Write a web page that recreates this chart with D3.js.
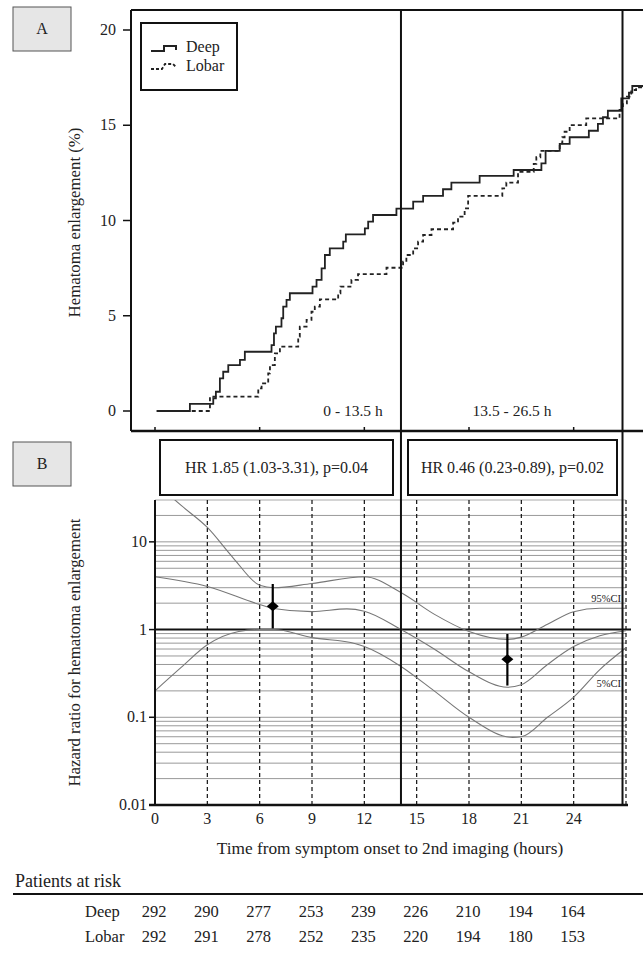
<!DOCTYPE html>
<html>
<head>
<meta charset="utf-8">
<script src="https://cdn.jsdelivr.net/npm/d3@7"></script>
<style>
  body { margin: 0; background: #fff; }
  text { font-family: "Liberation Serif", "DejaVu Serif", serif; fill: #222; }
</style>
</head>
<body>
<div id="chart"></div>
<script>
// Panel A: cumulative hematoma enlargement (%) step curves [hours, %]
const deepSteps = [[0.1,0],[2.0,0.37],[3.34,0.67],[3.49,1.01],[3.72,1.71],[3.91,2.06],[4.2,2.41],[4.87,2.68],[5.15,3.11],
  [6.68,3.46],[6.82,4.07],[6.93,4.43],[7.25,4.87],[7.35,5.48],[7.54,5.83],[7.73,6.18],[9.03,6.53],[9.26,6.88],[9.55,7.49],
  [9.74,8.19],[10.02,8.54],[10.79,8.89],[10.94,9.27],[12.03,9.59],[12.22,9.94],[12.5,10.29],[13.84,10.62],[14.8,10.99],
  [15.37,11.29],[16.51,11.64],[16.99,11.99],[18.61,12.34],[20.56,12.65],[22.15,13.0],[22.39,13.66],[23.2,14.02],[23.77,14.37],
  [24.87,14.71],[25.39,15.07],[25.68,15.42],[25.96,15.76],[26.73,16.41],[27.17,16.71],[27.36,17.06],[28.5,17.06]];
const lobarSteps = [[0.1,0],[3.15,0.75],[5.92,1.19],[6.11,1.45],[6.49,1.98],[6.59,2.41],[6.87,3.03],[7.16,3.38],[8.21,3.9],
  [8.3,4.43],[8.69,4.78],[8.97,5.21],[9.16,5.48],[9.45,5.86],[10.5,6.18],[10.63,6.53],[11.26,6.88],[11.64,7.19],[13.27,7.52],
  [14.22,7.84],[14.41,8.19],[14.8,8.54],[15.08,8.89],[15.37,9.24],[15.85,9.54],[17.09,9.89],[17.37,10.2],[17.75,10.64],
  [17.95,11.29],[19.91,11.69],[20.14,11.99],[20.81,12.56],[21.71,12.97],[21.86,13.32],[22.09,13.66],[23.2,14.05],[23.35,14.37],
  [23.48,14.66],[23.77,15.01],[24.72,15.36],[26.63,15.8],[26.82,16.15],[27.05,16.5],[27.3,16.85],[27.58,16.99],[28.5,16.99]];

// Panel B: hazard ratio curves [hours, HR]
const upperCI = [[0,48],[1.5,26],[3,14.6],[4.5,6.5],[6,3.2],[6.8,3.0],[9,3.35],[12,4.0],[14.1,2.64],[16,1.5],[18,0.95],
  [20.2,0.77],[21,0.82],[22.5,1.15],[24,1.6],[25.5,1.75],[27,1.75]];
const hrCurve = [[0,4.0],[3,3.1],[6,1.93],[6.8,1.74],[9,1.6],[11,1.72],[12,1.62],[14.1,1.0],[16,0.6],[18,0.33],[20.2,0.22],
  [21,0.235],[22.5,0.4],[24,0.64],[25.5,0.85],[27,0.97]];
const lowerCI = [[0,0.2],[1.5,0.37],[3,0.67],[4.8,0.95],[6,1.0],[6.8,1.0],[9,0.81],[11.5,0.69],[12,0.64],[14.1,0.38],[16,0.2],
  [18,0.1],[20.5,0.059],[21,0.06],[22.5,0.1],[24,0.17],[25.5,0.35],[27,0.62]];

// period estimates
const periods = ["0 - 13.5 h", "13.5 - 26.5 h"];
const periodHR = [1.85, 0.46];
const periodLo = [1.03, 0.23];
const periodHi = [3.31, 0.89];
const periodMid = [6.75, 20.2];
const periodText = ["HR 1.85 (1.03-3.31), p=0.04", "HR 0.46 (0.23-0.89), p=0.02"];
const windowEdges = [14.1, 26.8];

// ticks
const aTicks = [0, 5, 10, 15, 20];
const bTicks = [0.01, 0.1, 1, 10];
const xTicks = [0, 3, 6, 9, 12, 15, 18, 21, 24];

// patients at risk
const riskGroups = ["Deep", "Lobar"];
const riskDeep = [292, 290, 277, 253, 239, 226, 210, 194, 164];
const riskLobar = [292, 291, 278, 252, 235, 220, 194, 180, 153];

const width = 643, height = 953;
const svg = d3.select("#chart").append("svg").attr("width", width).attr("height", height);

const x = d3.scaleLinear().domain([0, 27]).range([155, 626]);
const yA = d3.scaleLinear().domain([0, 20]).range([411, 30]);
const yB = d3.scaleLog().domain([0.01, 30]).range([805, 500]);

const aTop = 10, aBottom = 431, aLeft = 131;
const bTop = 500, bBottom = 805;

// panel label boxes
[["A", 7], ["B", 442]].forEach(([lab, top]) => {
  svg.append("rect").attr("x", 13).attr("y", top).attr("width", 58).attr("height", 44)
    .attr("fill", "#e6e6e6").attr("stroke", "#555").attr("stroke-width", 1);
  svg.append("text").attr("x", 42).attr("y", top + 27).attr("text-anchor", "middle")
    .style("font-size", "16px").text(lab);
});

// ---------- Panel A ----------
svg.append("clipPath").attr("id", "clipA").append("rect")
  .attr("x", aLeft).attr("y", aTop).attr("width", width - aLeft).attr("height", aBottom - aTop);

const stepLine = d3.line().x(d => x(d[0])).y(d => yA(d[1])).curve(d3.curveStepAfter);
const gA = svg.append("g").attr("clip-path", "url(#clipA)");
gA.append("path").attr("d", stepLine(lobarSteps)).attr("fill", "none")
  .attr("stroke", "#222").attr("stroke-width", 1.8).attr("stroke-dasharray", "4,3");
gA.append("path").attr("d", stepLine(deepSteps)).attr("fill", "none")
  .attr("stroke", "#222").attr("stroke-width", 1.8);

// frame
svg.append("line").attr("x1", aLeft).attr("x2", width).attr("y1", aTop).attr("y2", aTop)
  .attr("stroke", "#111").attr("stroke-width", 2);
svg.append("line").attr("x1", aLeft).attr("x2", width).attr("y1", aBottom).attr("y2", aBottom)
  .attr("stroke", "#111").attr("stroke-width", 2.5);
svg.append("line").attr("x1", aLeft).attr("x2", aLeft).attr("y1", aTop).attr("y2", aBottom)
  .attr("stroke", "#111").attr("stroke-width", 2);

// y axis A
aTicks.forEach(t => {
  svg.append("line").attr("x1", aLeft - 8).attr("x2", aLeft).attr("y1", yA(t)).attr("y2", yA(t))
    .attr("stroke", "#111").attr("stroke-width", 1.5);
  svg.append("text").attr("x", 116).attr("y", yA(t) + 5).attr("text-anchor", "end")
    .style("font-size", "16px").text(t);
});
[0, 6, 12, 18, 24].forEach(t => {
  svg.append("line").attr("x1", x(t)).attr("x2", x(t)).attr("y1", aBottom).attr("y2", aBottom - 4)
    .attr("stroke", "#111").attr("stroke-width", 1.5);
});
svg.append("text").attr("transform", `translate(80,${(yA(0) + yA(20)) / 2 + 2}) rotate(-90)`)
  .attr("text-anchor", "middle").style("font-size", "16.8px").text("Hematoma enlargement (%)");

// period labels
svg.append("text").attr("x", 353).attr("y", 416).attr("text-anchor", "middle").style("font-size", "15.5px").text(periods[0]);
svg.append("text").attr("x", 512).attr("y", 416).attr("text-anchor", "middle").style("font-size", "15.5px").text(periods[1]);

// legend
svg.append("rect").attr("x", 141).attr("y", 23).attr("width", 96).attr("height", 67)
  .attr("fill", "#fff").attr("stroke", "#111").attr("stroke-width", 2);
svg.append("path").attr("d", "M151,51H164V46H176V50").attr("fill", "none").attr("stroke", "#222").attr("stroke-width", 2);
svg.append("path").attr("d", "M151,69H162L165,64H173L176,67").attr("fill", "none").attr("stroke", "#222")
  .attr("stroke-width", 1.8).attr("stroke-dasharray", "3,2");
svg.append("text").attr("x", 186).attr("y", 52).style("font-size", "16px").text(riskGroups[0]);
svg.append("text").attr("x", 186).attr("y", 71).style("font-size", "16px").text(riskGroups[1]);

// ---------- HR boxes ----------
const boxX = [[160, 393], [408, 617]];
boxX.forEach((b, i) => {
  svg.append("rect").attr("x", b[0]).attr("y", 440).attr("width", b[1] - b[0]).attr("height", 55)
    .attr("fill", "#fff").attr("stroke", "#111").attr("stroke-width", 2);
  svg.append("text").attr("x", (b[0] + b[1]) / 2).attr("y", 473).attr("text-anchor", "middle")
    .style("font-size", "16px").text(periodText[i]);
});

// ---------- Panel B ----------
// horizontal grid
const grid = [];
[0.01, 0.1, 1, 10].forEach(dec => { for (let k = 1; k <= 9; k++) grid.push(dec * k); });
svg.selectAll("line.hgrid").data(grid.filter(v => v > 0.011 && v < 30 && Math.abs(v - 1) > 1e-9)).enter().append("line")
  .attr("class", "hgrid").attr("x1", x(0)).attr("x2", x(27))
  .attr("y1", d => yB(d)).attr("y2", d => yB(d)).attr("stroke", "#999").attr("stroke-width", 1);
svg.append("line").attr("x1", x(0)).attr("x2", x(27)).attr("y1", bTop).attr("y2", bTop)
  .attr("stroke", "#aaa").attr("stroke-width", 1);

// vertical dashed
svg.selectAll("line.vgrid").data(xTicks.slice(1).concat([27])).enter().append("line")
  .attr("class", "vgrid").attr("x1", d => x(d)).attr("x2", d => x(d)).attr("y1", bTop).attr("y2", bBottom)
  .attr("stroke", "#111").attr("stroke-width", 1.2).attr("stroke-dasharray", "4,3");

// HR=1 line
svg.append("line").attr("x1", x(0)).attr("x2", x(27) + 5).attr("y1", yB(1)).attr("y2", yB(1))
  .attr("stroke", "#111").attr("stroke-width", 2);

// curves
svg.append("clipPath").attr("id", "clipB").append("rect")
  .attr("x", x(0)).attr("y", bTop).attr("width", x(27) - x(0)).attr("height", bBottom - bTop);
const hrLine = d3.line().x(d => x(d[0])).y(d => yB(d[1])).curve(d3.curveMonotoneX);
const gB = svg.append("g").attr("clip-path", "url(#clipB)");
[upperCI, hrCurve, lowerCI].forEach(s => {
  gB.append("path").attr("d", hrLine(s)).attr("fill", "none").attr("stroke", "#777").attr("stroke-width", 1.1);
});
svg.append("text").attr("x", 621).attr("y", 602).attr("text-anchor", "end").style("font-size", "10.5px").text("95%CI");
svg.append("text").attr("x", 621).attr("y", 687).attr("text-anchor", "end").style("font-size", "10.5px").text("5%CI");

// estimates
periodHR.forEach((hr, i) => {
  const cx = x(periodMid[i]), cy = yB(hr);
  svg.append("line").attr("x1", cx).attr("x2", cx).attr("y1", yB(periodHi[i])).attr("y2", yB(periodLo[i]))
    .attr("stroke", "#000").attr("stroke-width", 2.2);
  svg.append("path").attr("d", `M${cx - 6},${cy}L${cx},${cy - 5}L${cx + 6},${cy}L${cx},${cy + 5}Z`).attr("fill", "#000");
});

// axes B
svg.append("line").attr("x1", x(0)).attr("x2", x(0)).attr("y1", bTop).attr("y2", bBottom)
  .attr("stroke", "#111").attr("stroke-width", 2);
svg.append("line").attr("x1", x(0) - 6).attr("x2", x(27) + 2).attr("y1", bBottom).attr("y2", bBottom)
  .attr("stroke", "#111").attr("stroke-width", 2.5);
bTicks.forEach(t => {
  svg.append("line").attr("x1", x(0) - 6).attr("x2", x(0)).attr("y1", yB(t)).attr("y2", yB(t))
    .attr("stroke", "#111").attr("stroke-width", 1.5);
  svg.append("text").attr("x", 147).attr("y", yB(t) + 5).attr("text-anchor", "end")
    .style("font-size", "16px").text(t);
});
xTicks.forEach(t => {
  svg.append("text").attr("x", x(t)).attr("y", 824).attr("text-anchor", "middle")
    .style("font-size", "16px").text(t);
});
svg.append("text").attr("x", 390).attr("y", 854).attr("text-anchor", "middle")
  .style("font-size", "17.3px").text("Time from symptom onset to 2nd imaging (hours)");
svg.append("text").attr("transform", `translate(80,${(bTop + bBottom) / 2}) rotate(-90)`)
  .attr("text-anchor", "middle").style("font-size", "16.8px").text("Hazard ratio for hematoma enlargement");

// window edges spanning both panels
windowEdges.forEach(t => {
  svg.append("line").attr("x1", x(t)).attr("x2", x(t)).attr("y1", aTop).attr("y2", bBottom)
    .attr("stroke", "#111").attr("stroke-width", 2);
});

// ---------- Patients at risk ----------
svg.append("text").attr("x", 15).attr("y", 887).style("font-size", "18px").text("Patients at risk");
svg.append("line").attr("x1", 13).attr("x2", width).attr("y1", 894).attr("y2", 894)
  .attr("stroke", "#111").attr("stroke-width", 2);
[riskDeep, riskLobar].forEach((row, r) => {
  const yy = 917 + r * 25;
  svg.append("text").attr("x", 85).attr("y", yy).style("font-size", "16.5px").text(riskGroups[r]);
  row.forEach((n, i) => {
    svg.append("text").attr("x", x(xTicks[i]) - 1).attr("y", yy).attr("text-anchor", "middle")
      .style("font-size", "16.5px").text(n);
  });
});
</script>
</body>
</html>
